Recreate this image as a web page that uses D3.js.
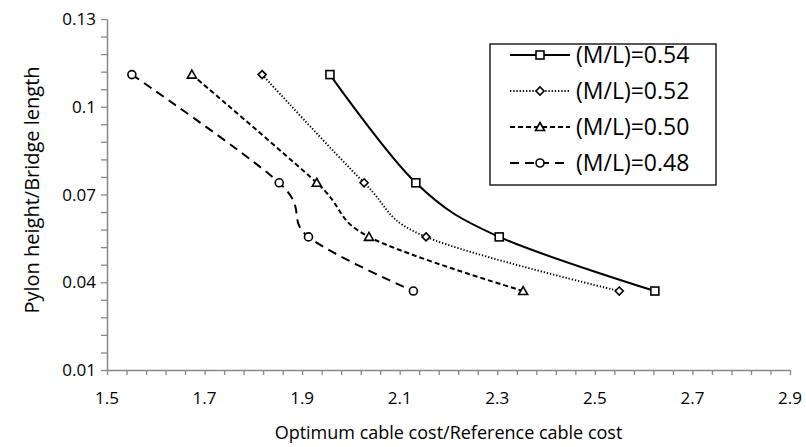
<!DOCTYPE html>
<html>
<head>
<meta charset="utf-8">
<script src="https://cdn.jsdelivr.net/npm/d3@7"></script>
<style>
  body { margin: 0; background: #fff; }
  text { font-family: "Open Sans", "Liberation Sans", sans-serif; fill: #000; }
</style>
</head>
<body>
<svg id="chart" width="806" height="447"></svg>
<script>
// ---------------- data ----------------
var seriesNames = ["(M/L)=0.54", "(M/L)=0.52", "(M/L)=0.50", "(M/L)=0.48"];
var heightRatio = [0.111, 0.074, 0.0555, 0.037];
var cost054 = [1.957, 2.133, 2.304, 2.623];
var cost052 = [1.818, 2.027, 2.154, 2.550];
var cost050 = [1.674, 1.930, 2.037, 2.353];
var cost048 = [1.551, 1.853, 1.913, 2.128];
var xTicks = [1.5, 1.7, 1.9, 2.1, 2.3, 2.5, 2.7, 2.9];
var yTicks = [0.01, 0.04, 0.07, 0.1, 0.13];

var costs = [cost054, cost052, cost050, cost048];
var styles = [
  { dash: null, width: 2, marker: "square" },
  { dash: "1.3,1.9", width: 1.9, marker: "diamond" },
  { dash: "5,3", width: 2, marker: "triangle" },
  { dash: "9,6", width: 2, marker: "circle" }
];

var svg = d3.select("#chart"),
    plotL = 107, plotR = 790, plotT = 19, plotB = 370,
    axisColor = "#888";

var x = d3.scaleLinear().domain([1.5, 2.9]).range([plotL, plotR]);
var y = d3.scaleLinear().domain([0.01, 0.13]).range([plotB, plotT]);

// ---------------- axes ----------------
var minorY = d3.range(0, 21).map(function (i) { return 0.01 + i * 0.006; });
var minorX = d3.range(0, 36).map(function (i) { return 1.5 + i * 0.04; });

svg.append("g")
    .attr("transform", "translate(0," + plotB + ")")
    .call(d3.axisBottom(x).tickValues(minorX).tickSize(5).tickSizeOuter(0).tickFormat(""))
    .call(function (g) {
      g.select(".domain").attr("stroke", axisColor).attr("stroke-width", 1.5);
      g.selectAll(".tick line").attr("stroke", axisColor).attr("stroke-width", 1.3);
    });

svg.append("g")
    .attr("transform", "translate(" + plotL + ",0)")
    .call(d3.axisLeft(y).tickValues(minorY).tickSize(6).tickSizeOuter(0).tickFormat(""))
    .call(function (g) {
      g.select(".domain").attr("stroke", axisColor).attr("stroke-width", 1.5);
      g.selectAll(".tick line").attr("stroke", axisColor).attr("stroke-width", 1.3);
    });

// tick labels
svg.append("g").selectAll("text")
    .data(xTicks).enter().append("text")
    .attr("x", function (d) { return x(d); })
    .attr("y", 404)
    .attr("text-anchor", "middle")
    .style("font-size", "17px")
    .text(function (d) { return d.toFixed(1); });

svg.append("g").selectAll("text")
    .data(yTicks).enter().append("text")
    .attr("x", 96)
    .attr("y", function (d) { return y(d) + 6; })
    .attr("text-anchor", "end")
    .style("font-size", "17px")
    .text(function (d) { return +d.toFixed(2) + ""; });

// axis titles
svg.append("text")
    .attr("x", (plotL + plotR) / 2)
    .attr("y", 439)
    .attr("text-anchor", "middle")
    .style("font-size", "18px")
    .text("Optimum cable cost/Reference cable cost");

svg.append("text")
    .attr("transform", "translate(39,190) rotate(-90)")
    .attr("text-anchor", "middle")
    .style("font-size", "20px")
    .text("Pylon height/Bridge length");

// ---------------- series ----------------
var line = d3.line()
    .x(function (d) { return x(d[0]); })
    .y(function (d) { return y(d[1]); })
    .curve(d3.curveCatmullRom.alpha(0));

function drawMarker(g, type, cx, cy) {
  var m;
  if (type === "square") {
    m = g.append("rect").attr("x", cx - 4).attr("y", cy - 4).attr("width", 8).attr("height", 8);
  } else if (type === "diamond") {
    m = g.append("path").attr("d", "M" + cx + "," + (cy - 4) + "L" + (cx + 4) + "," + cy +
        "L" + cx + "," + (cy + 4) + "L" + (cx - 4) + "," + cy + "Z");
  } else if (type === "triangle") {
    m = g.append("path").attr("d", "M" + cx + "," + (cy - 4.5) + "L" + (cx + 4.5) + "," + (cy + 3.5) +
        "L" + (cx - 4.5) + "," + (cy + 3.5) + "Z");
  } else {
    m = g.append("circle").attr("cx", cx).attr("cy", cy).attr("r", 4);
  }
  m.attr("fill", "#fff").attr("stroke", "#000").attr("stroke-width", 1.6);
}

costs.forEach(function (c, i) {
  var pts = c.map(function (v, j) { return [v, heightRatio[j]]; });
  var g = svg.append("g");
  g.append("path")
      .attr("d", line(pts))
      .attr("fill", "none")
      .attr("stroke", "#000")
      .attr("stroke-width", styles[i].width)
      .attr("stroke-dasharray", styles[i].dash);
  pts.forEach(function (p) { drawMarker(g, styles[i].marker, x(p[0]), y(p[1])); });
});

// ---------------- legend ----------------
var lg = svg.append("g");
lg.append("rect")
    .attr("x", 490).attr("y", 44).attr("width", 226).attr("height", 141)
    .attr("fill", "#fff").attr("stroke", "#000").attr("stroke-width", 1.3);

seriesNames.forEach(function (name, i) {
  var cy = 55 + i * 36;
  lg.append("line")
      .attr("x1", 510).attr("x2", 570).attr("y1", cy).attr("y2", cy)
      .attr("stroke", "#000")
      .attr("stroke-width", styles[i].width)
      .attr("stroke-dasharray", styles[i].dash);
  drawMarker(lg, styles[i].marker, 540, cy);
  lg.append("text")
      .attr("x", 576).attr("y", cy + 8)
      .style("font-size", "23px")
      .text(name);
});
</script>
</body>
</html>
